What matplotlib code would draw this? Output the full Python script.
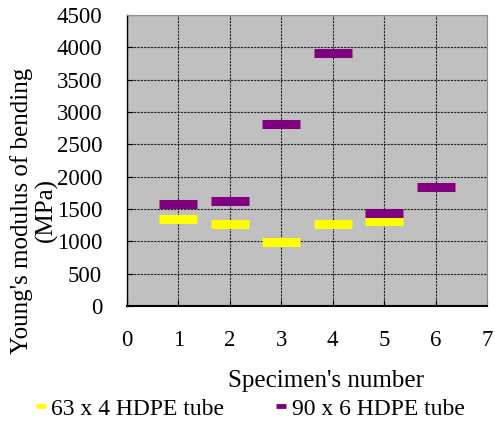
import numpy as np
import matplotlib.pyplot as plt
from matplotlib.lines import Line2D

plt.rcParams['font.family'] = ['Liberation Serif', 'DejaVu Serif']

specimen_63 = [1, 2, 3, 4, 5]
modulus_63 = [1340, 1275, 985, 1275, 1315]
specimen_90 = [1, 2, 3, 4, 5, 6]
modulus_90 = [1580, 1630, 2820, 3905, 1445, 1845]
series_labels = ['63 x 4 HDPE tube', '90 x 6 HDPE tube']
series_colors = ['#FFFF00', '#800080']

fontsize = 16.5

fig = plt.figure(figsize=(4.95, 4.25), dpi=100)
ax = fig.add_axes([0.2566, 0.28, 0.7272, 0.6847])
ax.set_facecolor('#C0C0C0')

ax.plot(specimen_63, modulus_63, linestyle='none', marker='_', ms=28,
        mew=6.5, color=series_colors[0], zorder=3)
ax.plot(specimen_90, modulus_90, linestyle='none', marker='_', ms=28,
        mew=6.5, color=series_colors[1], zorder=3)

ax.set_xlim(0, 7)
ax.set_ylim(0, 4500)
ax.set_xticks(np.arange(0, 8, 1))
ax.set_yticks(np.arange(0, 5000, 500))
ax.grid(True, color='#202020', linestyle=(0, (2, 1)), linewidth=0.8)
ax.set_axisbelow(True)
ax.tick_params(axis='x', labelsize=fontsize, pad=17, direction='in', length=4)
ax.tick_params(axis='y', labelsize=fontsize, pad=18, direction='in', length=4)
for side in ['top', 'right']:
    ax.spines[side].set_color('#909090')
    ax.spines[side].set_linewidth(0.8)
ax.spines['bottom'].set_linewidth(1.5)
ax.spines['left'].set_linewidth(1.0)

fig.text(0.043, 0.503, "Young's modulus of bending", rotation=90,
         fontsize=18, ha='center', va='center')
fig.text(0.093, 0.505, "(MPa)", rotation=90,
         fontsize=18, ha='center', va='center')
fig.text(0.659, 0.103, "Specimen's number", fontsize=18,
         ha='center', va='center')

handles = [Line2D([], [], color=c, lw=3.5, solid_capstyle='butt')
           for c in series_colors]
fig.legend(handles, series_labels, loc='center left',
           bbox_to_anchor=(0.073, 0.038), ncol=2, frameon=False,
           fontsize=17, handlelength=0.4, handletextpad=0.25,
           columnspacing=2.2, borderpad=0, borderaxespad=0)

fig.savefig('out.png')
